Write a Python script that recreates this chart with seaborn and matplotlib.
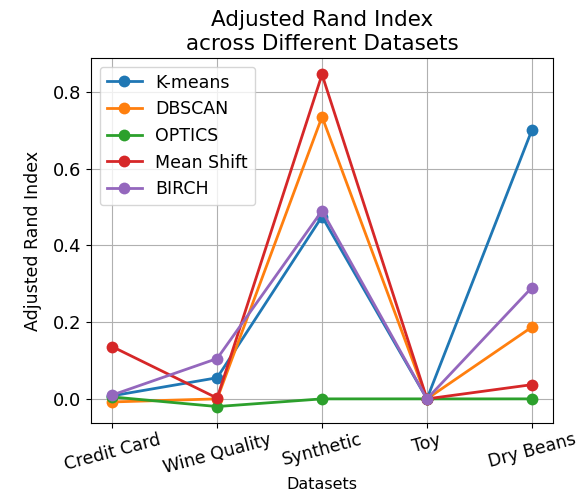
import matplotlib
matplotlib.use("Agg")
import matplotlib.pyplot as plt
import seaborn as sns
import pandas as pd

datasets = ["Credit Card", "Wine Quality", "Synthetic", "Toy", "Dry Beans"]
kmeans = [0.008, 0.055, 0.475, 0.0, 0.70]
dbscan = [-0.008, 0.0, 0.735, 0.0, 0.187]
optics = [0.005, -0.020, 0.0, 0.0, 0.0]
mean_shift = [0.136, 0.002, 0.845, 0.0, 0.037]
birch = [0.010, 0.105, 0.490, 0.0, 0.290]
algorithms = ["K-means", "DBSCAN", "OPTICS", "Mean Shift", "BIRCH"]
series = [kmeans, dbscan, optics, mean_shift, birch]

rows = []
for alg, vals in zip(algorithms, series):
    for d, v in zip(datasets, vals):
        rows.append({"Dataset": d, "ARI": v, "Algorithm": alg})
df = pd.DataFrame(rows)

fig, ax = plt.subplots(figsize=(5.85, 4.99), dpi=100)
sns.lineplot(data=df, x="Dataset", y="ARI", hue="Algorithm", marker="o",
             markersize=8.5, markeredgewidth=0, linewidth=2, sort=False,
             palette="tab10", ax=ax)
ax.set_title("Adjusted Rand Index\nacross Different Datasets", fontsize=15.5)
ax.set_xlabel("Datasets", fontsize=11.5, labelpad=0)
ax.set_ylabel("Adjusted Rand Index", fontsize=12.5, labelpad=8)
ax.tick_params(axis="x", rotation=15, labelsize=12.5, pad=2)
ax.tick_params(axis="y", labelsize=13)
ax.grid(True)
leg = ax.legend(loc="upper left", fontsize=12.5)
fig.subplots_adjust(left=0.156, right=0.945, top=0.884, bottom=0.152)
fig.savefig("out.png", dpi=100)
